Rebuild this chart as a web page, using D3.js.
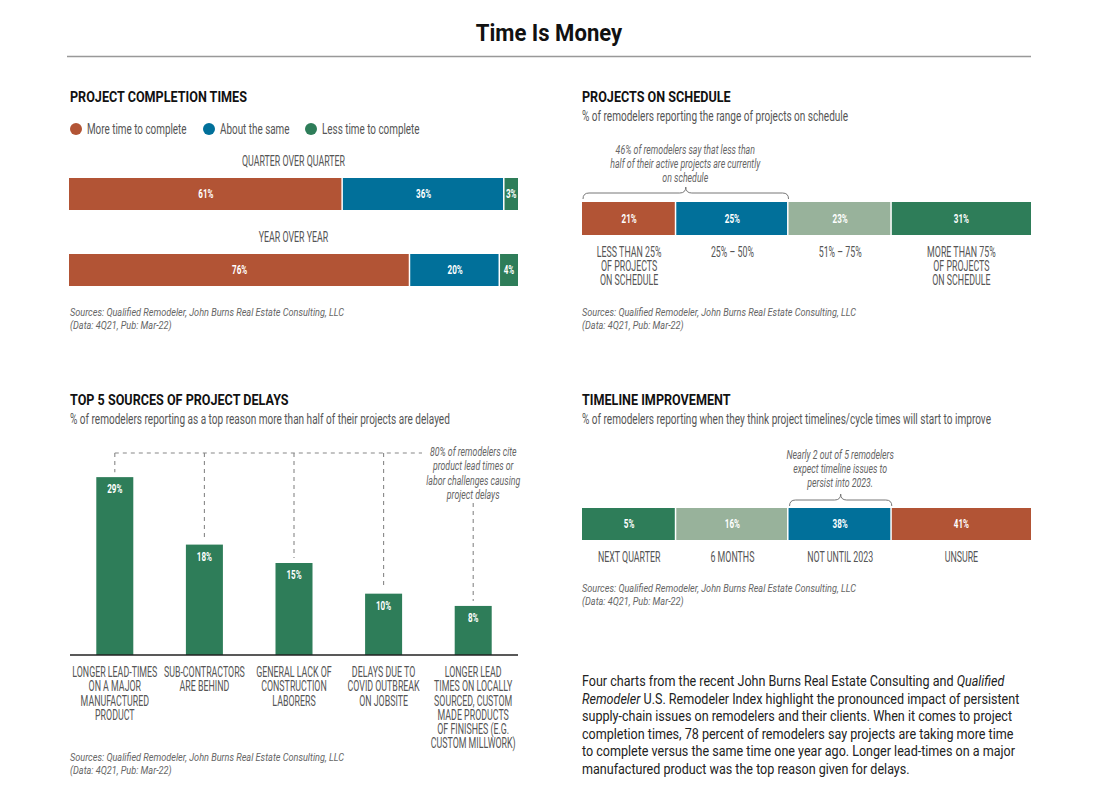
<!DOCTYPE html>
<html>
<head>
<meta charset="utf-8">
<script src="https://cdn.jsdelivr.net/npm/d3@7"></script>
<style>
  body { margin: 0; background: #fff; }
  svg { display: block; }
</style>
</head>
<body>
<div id="chart"></div>
<script>
// ---- data ----
const completionRows = ["QUARTER OVER QUARTER", "YEAR OVER YEAR"];
const completionSeries = ["More time to complete", "About the same", "Less time to complete"];
const moreTime = [61, 76];
const aboutSame = [36, 20];
const lessTime = [3, 4];

const scheduleCats = [["LESS THAN 25%", "OF PROJECTS", "ON SCHEDULE"], ["25% – 50%"], ["51% – 75%"], ["MORE THAN 75%", "OF PROJECTS", "ON SCHEDULE"]];
const scheduleValues = [21, 25, 23, 31];

const delayCats = [
  ["LONGER LEAD-TIMES", "ON A MAJOR", "MANUFACTURED", "PRODUCT"],
  ["SUB-CONTRACTORS", "ARE BEHIND"],
  ["GENERAL LACK OF", "CONSTRUCTION", "LABORERS"],
  ["DELAYS DUE TO", "COVID OUTBREAK", "ON JOBSITE"],
  ["LONGER LEAD", "TIMES ON LOCALLY", "SOURCED, CUSTOM", "MADE PRODUCTS", "OF FINISHES (E.G.", "CUSTOM MILLWORK)"]
];
const delayValues = [29, 18, 15, 10, 8];

const timelineCats = ["NEXT QUARTER", "6 MONTHS", "NOT UNTIL 2023", "UNSURE"];
const timelineValues = [5, 16, 38, 41];

const source1 = "Sources: Qualified Remodeler, John Burns Real Estate Consulting, LLC";
const source2 = "(Data: 4Q21, Pub: Mar-22)";

// colours
const rust = "#b25435", blue = "#01709a", sage = "#98b29b", green = "#2e7d59";

const width = 1098, height = 800;
const svg = d3.select("#chart").append("svg")
    .attr("width", width)
    .attr("height", height)
    .attr("font-family", "Roboto, sans-serif");

// no condensed faces installed, so squeeze text horizontally around its x
function squeeze(t, s) {
  const x = +t.attr("x");
  t.attr("transform", `translate(${x},0) scale(${s},1) translate(${-x},0)`);
  return t;
}

// multi-line text
function lines(g, arr, x, y, lh, s, anchor) {
  const t = g.append("text").attr("x", x).attr("y", y).attr("text-anchor", anchor || "middle");
  arr.forEach((str, i) => t.append("tspan").attr("x", x).attr("dy", i ? lh : 0).text(str));
  return squeeze(t, s);
}

// labels in caps (category labels, row labels)
const capsScale = 0.61;
function capsGroup() {
  return svg.append("g").attr("font-size", 14.5).attr("fill", "#555");
}
function valueLabel(x, y, v) {
  squeeze(svg.append("text").attr("x", x).attr("y", y).attr("text-anchor", "middle")
    .attr("font-weight", 700).attr("font-size", 13).attr("fill", "#fff").text(v + "%"), 0.62);
}
function annoGroup() {
  return svg.append("g").attr("font-style", "italic").attr("font-size", 13.5).attr("fill", "#666");
}

// curly brace above a span
function brace(x0, x1, y) {
  const c = (x0 + x1) / 2;
  svg.append("path")
    .attr("d", `M${x0},${y + 6} Q${x0},${y} ${x0 + 6},${y} H${c - 6} Q${c},${y} ${c},${y - 6} Q${c},${y} ${c + 6},${y} H${x1 - 6} Q${x1},${y} ${x1},${y + 6}`)
    .attr("fill", "none").attr("stroke", "#777").attr("stroke-width", 1);
}

function header(x, y, title, sub) {
  squeeze(svg.append("text").attr("x", x).attr("y", y)
    .attr("font-weight", 700).attr("font-size", 15)
    .attr("fill", "#111").text(title), 0.84);
  if (sub) squeeze(svg.append("text").attr("x", x).attr("y", y + 19)
    .attr("font-size", 15).attr("fill", "#555").text(sub), 0.67);
}

function sources(x, y) {
  const g = svg.append("g").attr("font-style", "italic").attr("font-size", 10.5).attr("fill", "#666");
  lines(g, [source1, source2], x, y, 13, 0.87, "start");
}

// ---- title ----
squeeze(svg.append("text").attr("x", 549).attr("y", 41).attr("text-anchor", "middle")
  .attr("font-weight", 700).attr("font-size", 23)
  .attr("fill", "#111").text("Time Is Money"), 0.96);
svg.append("line").attr("x1", 67).attr("x2", 1031).attr("y1", 56.5).attr("y2", 56.5)
  .attr("stroke", "#999").attr("stroke-width", 1.5);

// ---- panel 1: project completion times ----
header(70, 102, "PROJECT COMPLETION TIMES");
const compColors = [rust, blue, green];
const legend = svg.append("g").attr("font-size", 15).attr("fill", "#555");
const legendX = [76, 209, 311];
completionSeries.forEach((s, i) => {
  legend.append("circle").attr("cx", legendX[i]).attr("cy", 129).attr("r", 6).attr("fill", compColors[i]);
  squeeze(legend.append("text").attr("x", legendX[i] + 11).attr("y", 134.5).text(s), 0.66);
});

const x1 = d3.scaleLinear([0, 100], [69, 518]);
const rowY = d3.scaleBand(completionRows, [150, 302]);
const compStack = d3.stack().keys([0, 1, 2])(completionRows.map((r, i) => [moreTime[i], aboutSame[i], lessTime[i]]));
completionRows.forEach((r, i) => {
  const y0 = rowY(r);
  squeeze(capsGroup().append("text").attr("x", x1(50)).attr("y", y0 + 16).attr("text-anchor", "middle").text(r), capsScale);
  compStack.forEach((layer, k) => {
    const d = layer[i];
    svg.append("rect").attr("x", x1(d[0])).attr("y", y0 + 28)
      .attr("width", x1(d[1]) - x1(d[0]) - (k < 2 ? 1.5 : 0)).attr("height", 32)
      .attr("fill", compColors[k]);
    valueLabel((x1(d[0]) + x1(d[1])) / 2, y0 + 48.5, d[1] - d[0]);
  });
});
sources(70, 316);

// ---- panel 2: projects on schedule ----
header(582, 102, "PROJECTS ON SCHEDULE", "% of remodelers reporting the range of projects on schedule");
const x2 = d3.scaleLinear([0, 100], [582, 1031]);
const schedColors = [rust, blue, sage, green];
const schedCum = d3.cumsum(scheduleValues);
const schedStart = [0, ...schedCum.slice(0, -1)];
lines(annoGroup(), ["46% of remodelers say that less than", "half of their active projects are currently", "on schedule"],
  x2(23), 154, 14, 0.65);
brace(x2(0) + 1, x2(schedCum[1]), 193);
const lab2 = capsGroup();
scheduleValues.forEach((v, i) => {
  svg.append("rect").attr("x", x2(schedStart[i])).attr("y", 202)
    .attr("width", x2(schedCum[i]) - x2(schedStart[i]) - (i < 3 ? 1.5 : 0)).attr("height", 33)
    .attr("fill", schedColors[i]);
  const cx = (x2(schedStart[i]) + x2(schedCum[i])) / 2;
  valueLabel(cx, 223, v);
  lines(lab2, scheduleCats[i], cx, 257, 14, capsScale);
});
sources(582, 316);

// ---- panel 3: top 5 sources of delays ----
header(70, 405, "TOP 5 SOURCES OF PROJECT DELAYS", "% of remodelers reporting as a top reason more than half of their projects are delayed");
const x3 = d3.scaleBand(d3.range(delayValues.length), [70, 518]).paddingInner(0.587).paddingOuter(0.2935);
const y3 = d3.scaleLinear([0, 30], [655, 471]);
const dashY = 453;
const dash = svg.append("g").attr("stroke", "#888").attr("stroke-width", 1.1)
  .attr("stroke-dasharray", "4,4").attr("fill", "none");
const cxs = delayValues.map((v, i) => x3(i) + x3.bandwidth() / 2);
dash.append("line").attr("x1", cxs[0]).attr("x2", 422).attr("y1", dashY).attr("y2", dashY);
delayValues.forEach((v, i) => {
  const top = i < 4 ? dashY : 503;
  dash.append("line").attr("x1", cxs[i]).attr("x2", cxs[i]).attr("y1", top).attr("y2", y3(v) - 5);
});
lines(annoGroup(), ["80% of remodelers cite", "product lead times or", "labor challenges causing", "project delays"],
  cxs[4], 456, 14.5, 0.65);
svg.append("g").selectAll("rect").data(delayValues).join("rect")
  .attr("x", (d, i) => x3(i)).attr("y", d => y3(d))
  .attr("width", x3.bandwidth()).attr("height", d => y3(0) - y3(d))
  .attr("fill", green);
delayValues.forEach((d, i) => valueLabel(cxs[i], y3(d) + 16, d));
svg.append("line").attr("x1", 70).attr("x2", 518).attr("y1", y3(0)).attr("y2", y3(0))
  .attr("stroke", "#222").attr("stroke-width", 1.5);
const lab3 = capsGroup();
delayCats.forEach((c, i) => lines(lab3, c, cxs[i], 677, 14.3, capsScale));
sources(70, 761);

// ---- panel 4: timeline improvement ----
// the reference reuses the same segment widths as "projects on schedule"
header(582, 405, "TIMELINE IMPROVEMENT", "% of remodelers reporting when they think project timelines/cycle times will start to improve");
const tlColors = [green, sage, blue, rust];
const c3 = (x2(schedStart[2]) + x2(schedCum[2])) / 2;
lines(annoGroup(), ["Nearly 2 out of 5 remodelers", "expect timeline issues to", "persist into 2023."], c3, 459, 14, 0.65);
brace(x2(schedStart[2]) + 1, x2(schedCum[2]), 500);
const lab4 = capsGroup();
timelineValues.forEach((v, i) => {
  svg.append("rect").attr("x", x2(schedStart[i])).attr("y", 508)
    .attr("width", x2(schedCum[i]) - x2(schedStart[i]) - (i < 3 ? 1.5 : 0)).attr("height", 32)
    .attr("fill", tlColors[i]);
  const cx = (x2(schedStart[i]) + x2(schedCum[i])) / 2;
  valueLabel(cx, 528.5, v);
  squeeze(lab4.append("text").attr("x", cx).attr("y", 562).attr("text-anchor", "middle").text(timelineCats[i]), capsScale);
});
sources(582, 592);

// ---- paragraph ----
const para = [
  [["Four charts from the recent John Burns Real Estate Consulting and ", false], ["Qualified", true]],
  [["Remodeler", true], [" U.S. Remodeler Index highlight the pronounced impact of persistent", false]],
  [["supply-chain issues on remodelers and their clients. When it comes to project", false]],
  [["completion times, 78 percent of remodelers say projects are taking more time", false]],
  [["to complete versus the same time one year ago. Longer lead-times on a major", false]],
  [["manufactured product was the top reason given for delays.", false]]
];
const pg = svg.append("text").attr("x", 582).attr("font-size", 15.5).attr("fill", "#222");
para.forEach((ln, i) => {
  ln.forEach(([s, it], j) => {
    const t = pg.append("tspan").text(s).attr("font-style", it ? "italic" : "normal");
    if (j === 0) t.attr("x", 582).attr("y", 686 + i * 17.6);
  });
});
squeeze(pg, 0.81);
</script>
</body>
</html>
